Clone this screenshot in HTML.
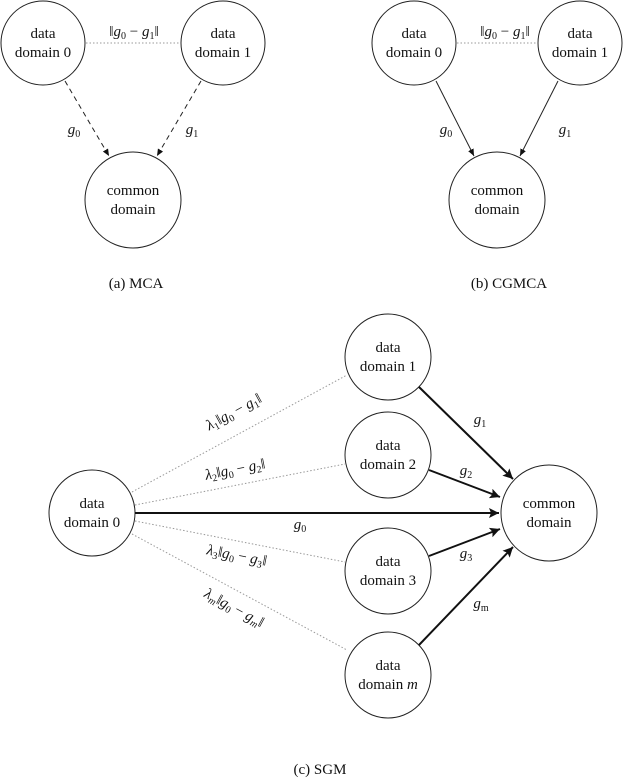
<!DOCTYPE html>
<html><head><meta charset="utf-8"><style>
body{margin:0;background:#fff}
svg{display:block}
text{font-family:"Liberation Serif",serif;font-size:15px;fill:#111}
.i{font-style:italic}
</style></head><body>
<svg width="640" height="780" viewBox="0 0 640 780" xmlns="http://www.w3.org/2000/svg">
<defs>
<marker id="a" markerWidth="8" markerHeight="8" refX="7" refY="4" orient="auto" markerUnits="userSpaceOnUse"><path d="M0,1 L7,4 L0,7 z" fill="#111"/></marker>
<marker id="b" markerWidth="12" markerHeight="12" refX="10" refY="5" orient="auto" markerUnits="userSpaceOnUse"><path d="M0,0 L10,5 L0,10 L2,5 z" fill="#111"/></marker>
</defs>
<g fill="none" stroke="#222" stroke-width="1">
<!-- (a) -->
<circle cx="43" cy="43" r="42"/><circle cx="223" cy="43" r="42"/><circle cx="133" cy="200" r="48"/>
<line x1="86" y1="43" x2="180" y2="43" stroke="#999" stroke-dasharray="1.5,2"/>
<line x1="65" y1="81" x2="109" y2="156" stroke-dasharray="5,4" marker-end="url(#a)"/>
<line x1="201" y1="81" x2="157" y2="156" stroke-dasharray="5,4" marker-end="url(#a)"/>
<!-- (b) -->
<circle cx="414" cy="43" r="42"/><circle cx="580" cy="43" r="42"/><circle cx="497" cy="200" r="48"/>
<line x1="457" y1="43" x2="537" y2="43" stroke="#999" stroke-dasharray="1.5,2"/>
<line x1="436" y1="81" x2="474" y2="156" marker-end="url(#a)"/>
<line x1="558" y1="81" x2="520" y2="156" marker-end="url(#a)"/>
<!-- (c) -->
<circle cx="92" cy="513" r="43"/>
<circle cx="388" cy="357" r="43"/><circle cx="388" cy="455" r="43"/><circle cx="388" cy="571" r="43"/><circle cx="388" cy="675" r="43"/>
<circle cx="549" cy="513" r="48"/>
<g stroke="#999" stroke-dasharray="1.5,2">
<line x1="132" y1="492" x2="347" y2="375"/>
<line x1="135" y1="505" x2="345" y2="464"/>
<line x1="135" y1="521" x2="345" y2="562"/>
<line x1="132" y1="534" x2="347" y2="650"/>
</g>
<g stroke="#111" stroke-width="2">
<line x1="135" y1="513" x2="499" y2="513" marker-end="url(#b)"/>
<line x1="419" y1="387" x2="513" y2="479" marker-end="url(#b)"/>
<line x1="429" y1="470" x2="500" y2="497" marker-end="url(#b)"/>
<line x1="429" y1="556" x2="500" y2="529" marker-end="url(#b)"/>
<line x1="419" y1="645" x2="513" y2="547" marker-end="url(#b)"/>
</g>
</g>
<g text-anchor="middle">
<text x="43" y="38">data</text><text x="43" y="57">domain 0</text>
<text x="223" y="38">data</text><text x="223" y="57">domain 1</text>
<text x="133" y="195">common</text><text x="133" y="214">domain</text>
<text x="134" y="36">‖<tspan class="i">g</tspan><tspan font-size="10" dy="3">0</tspan><tspan dy="-3"> − </tspan><tspan class="i">g</tspan><tspan font-size="10" dy="3">1</tspan><tspan dy="-3">‖</tspan></text>
<text x="74" y="134" class="i">g<tspan font-size="10" dy="3" font-style="normal">0</tspan></text>
<text x="192" y="134" class="i">g<tspan font-size="10" dy="3" font-style="normal">1</tspan></text>
<text x="136" y="288">(a) MCA</text>

<text x="414" y="38">data</text><text x="414" y="57">domain 0</text>
<text x="580" y="38">data</text><text x="580" y="57">domain 1</text>
<text x="497" y="195">common</text><text x="497" y="214">domain</text>
<text x="505" y="36">‖<tspan class="i">g</tspan><tspan font-size="10" dy="3">0</tspan><tspan dy="-3"> − </tspan><tspan class="i">g</tspan><tspan font-size="10" dy="3">1</tspan><tspan dy="-3">‖</tspan></text>
<text x="446" y="134" class="i">g<tspan font-size="10" dy="3" font-style="normal">0</tspan></text>
<text x="565" y="134" class="i">g<tspan font-size="10" dy="3" font-style="normal">1</tspan></text>
<text x="509" y="288">(b) CGMCA</text>

<text x="92" y="508">data</text><text x="92" y="527">domain 0</text>
<text x="388" y="352">data</text><text x="388" y="371">domain 1</text>
<text x="388" y="450">data</text><text x="388" y="469">domain 2</text>
<text x="388" y="566">data</text><text x="388" y="585">domain 3</text>
<text x="388" y="670">data</text><text x="388" y="689">domain <tspan class="i">m</tspan></text>
<text x="549" y="508">common</text><text x="549" y="527">domain</text>
<text x="300" y="529" class="i">g<tspan font-size="10" dy="3" font-style="normal">0</tspan></text>
<text x="480" y="424" class="i">g<tspan font-size="10" dy="3" font-style="normal">1</tspan></text>
<text x="466" y="475" class="i">g<tspan font-size="10" dy="3" font-style="normal">2</tspan></text>
<text x="466" y="558" class="i">g<tspan font-size="10" dy="3" font-style="normal">3</tspan></text>
<text x="481" y="608" class="i">g<tspan font-size="10" dy="3" font-style="normal">m</tspan></text>
<text transform="translate(236,416) rotate(-28.5)"><tspan class="i">λ</tspan><tspan font-size="10" dy="3">1</tspan><tspan dy="-3">‖</tspan><tspan class="i">g</tspan><tspan font-size="10" dy="3">0</tspan><tspan dy="-3"> − </tspan><tspan class="i">g</tspan><tspan font-size="10" dy="3">1</tspan><tspan dy="-3">‖</tspan></text>
<text transform="translate(236,474) rotate(-11)"><tspan class="i">λ</tspan><tspan font-size="10" dy="3">2</tspan><tspan dy="-3">‖</tspan><tspan class="i">g</tspan><tspan font-size="10" dy="3">0</tspan><tspan dy="-3"> − </tspan><tspan class="i">g</tspan><tspan font-size="10" dy="3">2</tspan><tspan dy="-3">‖</tspan></text>
<text transform="translate(236,560) rotate(11)"><tspan class="i">λ</tspan><tspan font-size="10" dy="3">3</tspan><tspan dy="-3">‖</tspan><tspan class="i">g</tspan><tspan font-size="10" dy="3">0</tspan><tspan dy="-3"> − </tspan><tspan class="i">g</tspan><tspan font-size="10" dy="3">3</tspan><tspan dy="-3">‖</tspan></text>
<text transform="translate(232,612) rotate(28.5)"><tspan class="i">λ</tspan><tspan font-size="10" dy="3" class="i">m</tspan><tspan dy="-3">‖</tspan><tspan class="i">g</tspan><tspan font-size="10" dy="3">0</tspan><tspan dy="-3"> − </tspan><tspan class="i">g</tspan><tspan font-size="10" dy="3" class="i">m</tspan><tspan dy="-3">‖</tspan></text>
<text x="320" y="774">(c) SGM</text>
</g>
</svg>
</body></html>
